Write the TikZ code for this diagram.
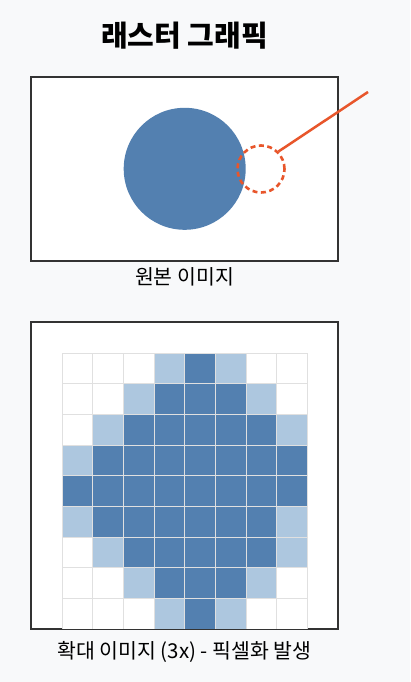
\documentclass[tikz,border=0pt]{standalone}
\usepackage{fontspec}
\usepackage{tikz}
\usetikzlibrary{calc}
\usetikzlibrary{positioning}
\usepackage{xcolor}
\newfontfamily\kor{Noto Sans CJK KR}
\definecolor{bgcol}{HTML}{F8F9FA}
\definecolor{framecol}{HTML}{333333}
\definecolor{cell0}{HTML}{FFFFFF}
\definecolor{cell1}{HTML}{ADC7DF}
\definecolor{cell2}{HTML}{5380B0}
\definecolor{hilite}{HTML}{E8562B}
\tikzset{
  imgbox/.style={draw=framecol, line width=1.4pt, fill=white, inner sep=0pt},
  pixcell/.style={draw=black!12, line width=1pt},
  caption/.style={font=\kor\fontsize{20.5}{24}\selectfont, inner sep=0pt}
}

\begin{document}
\begin{tikzpicture}[x=1pt,y=-1pt]
\fill[bgcol] (0,0) rectangle (410,682);
\node (title) [font=\kor\bfseries\fontsize{29}{34}\selectfont, inner sep=0pt] at (184.5,36) {래스터 그래픽};
\node (orig) [imgbox, minimum width=307pt, minimum height=184pt] at (184.5,169) {};
\node (disc) [circle, fill=cell2, inner sep=0pt, minimum size=122pt] at (184.7,168.8) {};
\node (zoom) [circle, draw=hilite, dash pattern=on 5pt off 3.5pt, line width=2.6pt, inner sep=0pt, minimum size=47pt] at (261,169) {};
\coordinate (tip) at (368,92);
\draw[hilite, line width=2.5pt] (zoom.north east) -- (tip);
\node (origcap) [caption] at (184.5,277) {원본 이미지};
\node (pix) [imgbox, minimum width=307pt, minimum height=307pt] at (184.5,475.5) {};
\foreach \row [count=\r from 0] in {{0,0,0,1,2,1,0,0},{0,0,1,2,2,2,1,0},{0,1,2,2,2,2,2,1},{1,2,2,2,2,2,2,2},{2,2,2,2,2,2,2,2},{1,2,2,2,2,2,2,1},{0,1,2,2,2,2,2,1},{0,0,1,2,2,2,1,0},{0,0,0,1,2,1,0,0}}
  \foreach \v [count=\c from 0] in \row
    \filldraw[pixcell, fill=cell\v] ($(62,353)+(\c*30.67,\r*30.67)$) rectangle +(30.67,30.67);
\draw[framecol, line width=1.4pt] (pix.south west) -- (pix.south east);
\node (pixcap) [caption] at (184.5,652) {확대 이미지 (3x) - 픽셀화 발생};
\end{tikzpicture}
\end{document}
